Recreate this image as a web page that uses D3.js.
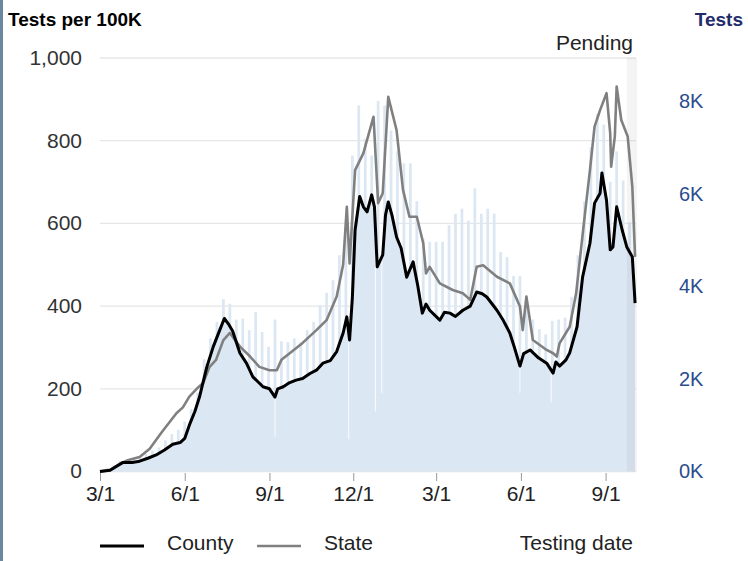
<!DOCTYPE html>
<html>
<head>
<meta charset="utf-8">
<script src="https://cdn.jsdelivr.net/npm/d3@7"></script>
<style>
  body { margin: 0; background: #fff; }
  svg { display: block; font-family: "Liberation Sans", Arial, sans-serif; }
</style>
</head>
<body>
<svg id="chart" width="748" height="561"></svg>
<script>
// axis ticks
const xTickDates = ["2020-03-01", "2020-06-01", "2020-09-01", "2020-12-01", "2021-03-01", "2021-06-01", "2021-09-01"];
const xTickLabels = ["3/1", "6/1", "9/1", "12/1", "3/1", "6/1", "9/1"];
const rateTicks = [0, 200, 400, 600, 800, 1000];
const testTicks = [0, 2000, 4000, 6000, 8000];

// tests per 100K, 7 day average (county)
const countyDates = [
  "2020-03-01", "2020-03-12", "2020-03-20", "2020-03-26", "2020-04-05", "2020-04-13", "2020-04-22", "2020-05-01",
  "2020-05-10", "2020-05-19", "2020-05-27", "2020-06-01", "2020-06-06", "2020-06-12", "2020-06-17", "2020-06-25",
  "2020-07-02", "2020-07-09", "2020-07-14", "2020-07-19", "2020-07-23", "2020-07-31", "2020-08-07", "2020-08-14",
  "2020-08-25", "2020-09-01", "2020-09-07", "2020-09-10", "2020-09-16", "2020-09-23", "2020-09-30", "2020-10-07",
  "2020-10-15", "2020-10-22", "2020-10-29", "2020-11-06", "2020-11-13", "2020-11-20", "2020-11-24", "2020-11-27",
  "2020-11-30", "2020-12-03", "2020-12-08", "2020-12-12", "2020-12-16", "2020-12-21", "2020-12-24", "2020-12-27",
  "2021-01-02", "2021-01-05", "2021-01-08", "2021-01-12", "2021-01-17", "2021-01-22", "2021-01-28", "2021-02-04",
  "2021-02-09", "2021-02-14", "2021-02-18", "2021-02-22", "2021-03-05", "2021-03-10", "2021-03-16", "2021-03-22",
  "2021-03-30", "2021-04-07", "2021-04-14", "2021-04-20", "2021-04-25", "2021-05-06", "2021-05-13", "2021-05-20",
  "2021-05-25", "2021-05-31", "2021-06-04", "2021-06-11", "2021-06-20", "2021-06-29", "2021-07-06", "2021-07-09",
  "2021-07-13", "2021-07-20", "2021-07-24", "2021-08-01", "2021-08-07", "2021-08-15", "2021-08-20", "2021-08-26",
  "2021-08-28", "2021-09-02", "2021-09-06", "2021-09-09", "2021-09-13", "2021-09-19", "2021-09-24", "2021-09-30",
  "2021-10-03"
];
const countyRate = [
  0, 3, 14, 22, 22, 25, 32, 40,
  52, 66, 70, 80, 112, 145, 180, 253,
  302, 342, 370, 355, 340, 286, 262, 229,
  205, 200, 180, 200, 205, 215, 221, 225,
  237, 245, 262, 268, 290, 335, 374, 318,
  420, 584, 665, 640, 628, 669, 640, 495,
  524, 620, 652, 620, 567, 540, 470, 507,
  450, 383, 405, 390, 366, 385, 383, 375,
  390, 400, 434, 430, 422, 390, 365, 335,
  300, 255, 285, 294, 275, 262, 238, 265,
  255, 270, 287, 350, 470, 552, 649, 673,
  722, 656, 536, 543, 640, 584, 543, 519,
  407
];

// tests per 100K, 7 day average (state)
const stateDates = [
  "2020-03-01", "2020-03-12", "2020-03-22", "2020-04-01", "2020-04-13", "2020-04-24", "2020-05-07", "2020-05-15",
  "2020-05-23", "2020-05-30", "2020-06-06", "2020-06-14", "2020-06-21", "2020-06-28", "2020-07-05", "2020-07-13",
  "2020-07-20", "2020-07-31", "2020-08-11", "2020-08-21", "2020-09-01", "2020-09-09", "2020-09-14", "2020-09-23",
  "2020-10-07", "2020-10-22", "2020-11-02", "2020-11-13", "2020-11-20", "2020-11-24", "2020-11-27", "2020-12-03",
  "2020-12-12", "2020-12-23", "2020-12-28", "2021-01-02", "2021-01-08", "2021-01-17", "2021-01-24", "2021-01-31",
  "2021-02-08", "2021-02-15", "2021-02-18", "2021-02-22", "2021-03-05", "2021-03-19", "2021-03-30", "2021-04-07",
  "2021-04-14", "2021-04-21", "2021-05-06", "2021-05-20", "2021-05-31", "2021-06-03", "2021-06-07", "2021-06-14",
  "2021-06-29", "2021-07-06", "2021-07-10", "2021-07-13", "2021-07-24", "2021-07-31", "2021-08-08", "2021-08-15",
  "2021-08-20", "2021-08-26", "2021-09-02", "2021-09-06", "2021-09-07", "2021-09-11", "2021-09-13", "2021-09-18",
  "2021-09-25", "2021-09-30", "2021-10-03"
];
const stateRate = [
  0, 4, 18, 28, 35, 55, 95, 118,
  141, 155, 181, 200, 214, 253, 270, 318,
  335, 302, 278, 253, 245, 245, 270, 286,
  311, 342, 366, 423, 500, 640, 503, 729,
  770, 858, 649, 673, 906, 826, 681, 616,
  616, 552, 479, 495, 455, 439, 431, 415,
  495, 499, 471, 455, 399, 342, 423, 318,
  294, 286, 278, 310, 350, 431, 592, 729,
  834, 874, 915, 818, 737, 810, 931, 850,
  810, 689, 519
];

// county daily tests: weekly high days (bars sticking out of the fill)
const spikeStart = "2020-03-02";
const spikeTests = [
  45, 70, 135, 225, 270, 290, 315, 380, 450, 520,
  675, 810, 900, 1080, 1350, 1710, 2430, 2880, 3240, 3730,
  3630, 3290, 3310, 3060, 3450, 3020, 2700, 3290, 2820, 2800,
  2880, 2800, 3060, 3240, 3600, 3870, 4140, 4680, 5400, 6840,
  7920, 7200, 6840, 8020, 7920, 7380, 6930, 6670, 6670, 5850,
  5040, 4970, 4970, 4970, 5330, 5580, 5690, 5430, 6130, 5580,
  5690, 5580, 4750, 4640, 4230, 4230, 3800, 3290, 3080, 2970,
  3260, 3290, 3330, 3780, 4680, 5850, 7020, 7740, 7510, 6270,
  6930, 6300, 5400
];

// county daily tests: holidays with low counts
const dipDates = ["2020-09-07", "2020-11-26", "2020-12-25", "2021-01-01", "2021-05-31", "2021-07-04"];
const dipTests = [750, 700, 1300, 1700, 1700, 1500];

const startDate = "2020-03-01";
const endDate = "2021-10-04";
const pendingStart = "2021-09-24";

const parse = d3.utcParse("%Y-%m-%d");


class TestingChart {

  constructor() {
    this.width = 748;
    this.height = 561;
    this.left = 100;
    this.right = 636;
    this.top = 58;
    this.bottom = 471.5;
    this.fill = "#dce7f4";
  }


  appendTo(svg) {
    this.$svg = d3.select(svg);

    this.$frame = this.$svg.append("g");
    this.$grid = this.$svg.append("g");
    this.$bars = this.$svg.append("g");
    this.$pending = this.$svg.append("g");
    this.$lines = this.$svg.append("g");
    this.$axes = this.$svg.append("g");
    this.$legend = this.$svg.append("g");
  }


  render() {
    this.x = d3.scaleUtc()
      .domain([parse(startDate), parse(endDate)])
      .range([this.left, this.right]);

    this.yRate = d3.scaleLinear()
      .domain([0, 1000])
      .range([this.bottom, this.top]);

    // 0K..8K on the right, same pixels as the rate axis
    this.yTests = d3.scaleLinear()
      .domain([0, 8950])
      .range([this.bottom, this.top]);

    this.county = countyDates.map((d, i) => [parse(d), countyRate[i]]);
    this.state = stateDates.map((d, i) => [parse(d), stateRate[i]]);

    this.$frame
      .append("rect")
      .attr("x", 0)
      .attr("y", 0)
      .attr("width", 3)
      .attr("height", this.height)
      .attr("fill", "#6a88a0");

    this.addGrid();
    this.addBars();
    this.addPending();
    this.addLines();
    this.addAxes();
    this.addLegend();
  }


  addGrid() {
    this.$grid.selectAll("line")
      .data(rateTicks)
      .enter()
      .append("line")
      .attr("x1", this.left)
      .attr("x2", this.right)
      .attr("y1", d => this.yRate(d))
      .attr("y2", d => this.yRate(d))
      .attr("stroke", "#e6e6e6")
      .attr("stroke-width", 1.3);
  }


  addBars() {
    const x = this.x;
    const y = this.yTests;

    // the daily bars overlap into a solid fill up to the 7 day average
    const area = d3.area()
      .x(d => x(d[0]))
      .y0(this.bottom)
      .y1(d => this.yRate(d[1]));

    this.$bars
      .append("path")
      .datum(this.county)
      .attr("d", area)
      .attr("fill", this.fill);

    const spikes = spikeTests.map((v, i) => [d3.utcDay.offset(parse(spikeStart), i * 7), v]);
    const bw = x(parse("2020-03-04")) - x(parse("2020-03-01"));

    this.$bars.selectAll("rect.spike")
      .data(spikes)
      .enter()
      .append("rect")
      .attr("class", "spike")
      .attr("x", d => x(d[0]) - bw / 2)
      .attr("width", bw)
      .attr("y", d => y(d[1]))
      .attr("height", d => this.bottom - y(d[1]))
      .attr("fill", this.fill);

    // holidays: thin white gaps cut into the fill
    const avg = d3.scaleUtc()
      .domain(this.county.map(d => d[0]))
      .range(this.county.map(d => d[1]));

    const dips = dipDates.map((d, i) => [parse(d), dipTests[i]]);
    this.$bars.selectAll("rect.dip")
      .data(dips)
      .enter()
      .append("rect")
      .attr("class", "dip")
      .attr("x", d => x(d[0]) - 0.5)
      .attr("width", 1)
      .attr("y", d => this.yRate(avg(d[0])))
      .attr("height", d => y(d[1]) - this.yRate(avg(d[0])))
      .attr("fill", "#fff")
      .attr("fill-opacity", 0.85);
  }


  addPending() {
    const x0 = this.x(parse(pendingStart));

    this.$pending
      .append("rect")
      .attr("x", x0)
      .attr("y", this.top)
      .attr("width", this.right - x0 + 1)
      .attr("height", this.bottom - this.top)
      .attr("fill", "#000")
      .attr("fill-opacity", 0.045);

    this.$pending
      .append("text")
      .attr("x", 633)
      .attr("y", 50)
      .attr("text-anchor", "end")
      .attr("font-size", 21)
      .attr("fill", "#222")
      .text("Pending");
  }


  addLines() {
    const line = d3.line()
      .x(d => this.x(d[0]))
      .y(d => this.yRate(d[1]));

    this.$lines
      .append("path")
      .datum(this.state)
      .attr("d", line)
      .attr("fill", "none")
      .attr("stroke", "#808080")
      .attr("stroke-width", 2.6)
      .attr("stroke-linejoin", "round");

    this.$lines
      .append("path")
      .datum(this.county)
      .attr("d", line)
      .attr("fill", "none")
      .attr("stroke", "#000")
      .attr("stroke-width", 3)
      .attr("stroke-linejoin", "round");
  }


  addAxes() {
    const fmtK = d => `${d / 1000}K`;

    // left, tests per 100K
    const left = this.$axes.append("g")
      .attr("transform", `translate(${this.left - 18}, 0)`)
      .call(d3.axisLeft(this.yRate).tickValues(rateTicks).tickSize(0).tickFormat(d3.format(",")));
    left.select(".domain").remove();
    left.selectAll("text")
      .attr("x", 0)
      .attr("dy", "0.3em")
      .attr("font-family", "Liberation Sans, Arial, sans-serif")
      .attr("font-size", 21)
      .attr("fill", "#333");

    // right, tests
    const right = this.$axes.append("g")
      .attr("transform", `translate(679, 0)`)
      .call(d3.axisRight(this.yTests).tickValues(testTicks).tickSize(0).tickFormat(fmtK));
    right.select(".domain").remove();
    right.selectAll("text")
      .attr("x", 0)
      .attr("dy", "0.3em")
      .attr("font-family", "Liberation Sans, Arial, sans-serif")
      .attr("font-size", 20)
      .attr("fill", "#2b4d8e");

    // bottom, testing date
    const bottom = this.$axes.append("g")
      .attr("transform", `translate(0, ${this.bottom + 1.5})`)
      .call(d3.axisBottom(this.x)
        .tickValues(xTickDates.map(parse))
        .tickSize(8)
        .tickFormat((d, i) => xTickLabels[i]));
    bottom.select(".domain").remove();
    bottom.selectAll("line")
      .attr("stroke", "#999");
    bottom.selectAll("text")
      .attr("y", 13)
      .attr("dy", "0.71em")
      .attr("font-family", "Liberation Sans, Arial, sans-serif")
      .attr("font-size", 21)
      .attr("fill", "#222");

    this.$axes
      .append("text")
      .attr("x", 8)
      .attr("y", 26)
      .attr("font-size", 19)
      .attr("font-weight", "bold")
      .attr("fill", "#000")
      .text("Tests per 100K");

    this.$axes
      .append("text")
      .attr("x", 743)
      .attr("y", 26)
      .attr("text-anchor", "end")
      .attr("font-size", 19)
      .attr("font-weight", "bold")
      .attr("fill", "#1f2d6b")
      .text("Tests");
  }


  addLegend() {
    const items = [
      {label: "County", color: "#000", x1: 100, x2: 144, tx: 167, w: 3},
      {label: "State", color: "#808080", x1: 257, x2: 301, tx: 324, w: 2.6}
    ];

    const g = this.$legend.selectAll("g")
      .data(items)
      .enter()
      .append("g");

    g.append("line")
      .attr("x1", d => d.x1)
      .attr("x2", d => d.x2)
      .attr("y1", 546)
      .attr("y2", 546)
      .attr("stroke", d => d.color)
      .attr("stroke-width", d => d.w);

    g.append("text")
      .attr("x", d => d.tx)
      .attr("y", 550)
      .attr("font-size", 21)
      .attr("fill", "#222")
      .text(d => d.label);

    this.$legend
      .append("text")
      .attr("x", 633)
      .attr("y", 550)
      .attr("text-anchor", "end")
      .attr("font-size", 21)
      .attr("fill", "#222")
      .text("Testing date");
  }

}


const chart = new TestingChart();
chart.appendTo("#chart");
chart.render();
</script>
</body>
</html>
